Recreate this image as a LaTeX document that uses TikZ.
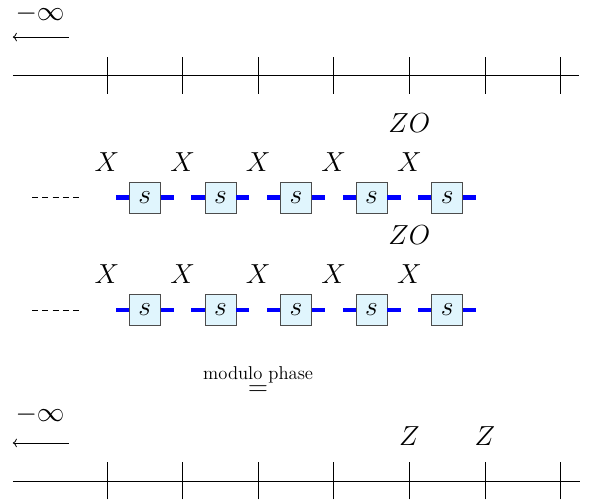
\documentclass[tikz,border=0pt]{standalone}
\usepackage{amsmath, amssymb}
\usepackage{tikz}
\usetikzlibrary{arrows.meta}

\tikzset{
  every node/.append style={font=\fontsize{20}{24}\selectfont},
  sbox/.style={draw=black!70, fill=cyan!12, minimum size=0.82cm, inner sep=0pt},
  leg/.style={blue, line width=3.5pt},
  tail/.style={line width=0.6pt, {To[length=3pt,width=6.5pt]}-},
}

\begin{document}
\begin{tikzpicture}
  \useasboundingbox (0,0) rectangle (15.61,13.33);
  % top line, going to -infinity
  \node[inner sep=1pt] (ta) at (1.06,12.98) {$-\infty$};
  \coordinate (tal) at (0.34,12.35);
  \coordinate (tar) at (1.83,12.35);
  \draw[tail] (tal) -- (tar);
  \draw (0.34,11.34) -- (15.32,11.34);
  \foreach \k in {0,...,6}
    \draw (2.83+2*\k,10.85) -- (2.83+2*\k,11.83);
  % two rows of s tensors
  \foreach \r/\y in {a/8.10, b/5.13} {
    \node (zo\r) at (10.83,\y+1.97) {$ZO$};
    \draw[dash pattern=on 4.5pt off 3.2pt] (0.85,\y) -- (2.09,\y);
    \foreach \k in {0,...,4} {
      \node (x\r\k) at (2.83+2*\k,\y+0.95) {$X$};
      \node[sbox] (s\r\k) at (3.83+2*\k,\y) {$s$};
      \draw[leg] (s\r\k.west) -- ++(-0.35,0);
      \draw[leg] (s\r\k.east) -- ++(0.35,0);
    }
  }
  \node (eq) at (6.83,3.28) {$\overset{\text{modulo phase}}{=}$};
  % bottom line
  \node (ba) at (1.06,2.35) {$-\infty$};
  \coordinate (bal) at (0.34,1.61);
  \coordinate (bar) at (1.83,1.61);
  \draw[tail] (bal) -- (bar);
  \node (z1) at (10.83,1.80) {$Z$};
  \node (z2) at (12.83,1.80) {$Z$};
  \draw (0.34,0.61) -- (15.34,0.61);
  \foreach \k in {0,...,6}
    \draw (2.83+2*\k,0.12) -- (2.83+2*\k,1.10);
\end{tikzpicture}
\end{document}
